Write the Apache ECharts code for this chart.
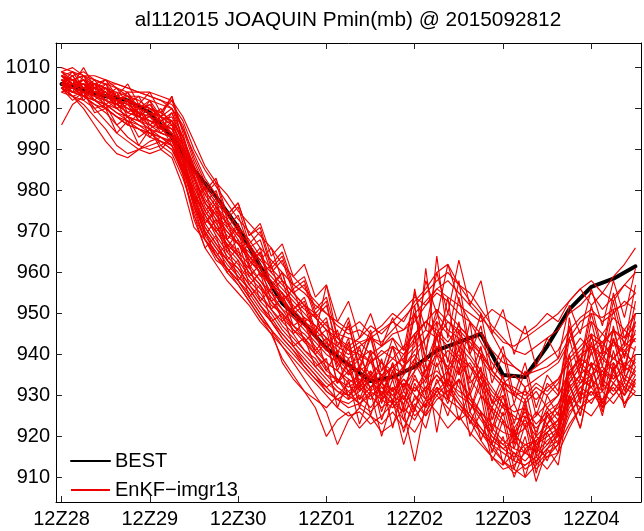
<!DOCTYPE html>
<html>
<head>
<meta charset="utf-8">
<script src="https://cdn.jsdelivr.net/npm/echarts@6/dist/echarts.min.js"></script>
<style>
html,body{margin:0;padding:0;background:#fff;}
#chart{width:644px;height:531px;}
</style>
</head>
<body>
<div id="chart"></div>
<script>
// ---- data ----
const titleText = 'al112015 JOAQUIN Pmin(mb) @ 2015092812';
const xTickHours = [0, 24, 48, 72, 96, 120, 144];
const xTickLabels = ['12Z28', '12Z29', '12Z30', '12Z01', '12Z02', '12Z03', '12Z04'];
const yTickValues = [910, 920, 930, 940, 950, 960, 970, 980, 990, 1000, 1010];
const legendNames = ['BEST', 'EnKF\u2212imgr13'];

// ensemble time grid (hours after 12Z28)
const ensHours = [0,3,6,9,12,15,18,21,24,27,30,33,36,39,42,45,48,51,54,57,60,63,66,69,72,75,78,81,84,87,90,93,96,99,102,105,108,111,114,117,120,123,126,129,132,135,138,141,144,147,150,153,156];

// best track (6-hourly)
const bestHours = [0,6,12,18,24,30,36,42,48,54,60,66,72,78,84,90,96,102,108,114,120,126,132,138,144,150,156];
const bestValues = [1006,1004.5,1003,1002,999,993,985,978.5,971,961.5,952.5,947.5,941.5,937.5,933.5,934.5,937,941,943,945,935,934.5,942,951,956.5,958.5,961.5];

// ensemble members (mb)
const ens01 = [1008,1007,1008,1006,1005,1004,1003,1003,1002,1001,1000,996,988,982,978,975,971,968,964,961,958,955,952,950,947,945,944,943,944,942,945,946,948,952,955,953,950,948,945,941,938,937,935,936,937,939,944,948,950,949,951,952,955];
const ens02 = [1005,1004,1003,1001,999,996,993,991,990,991,989,983,975,968,963,961,958,955,951,948,944,941,938,935,931,929,927,928,926,929,927,930,925,928,931,929,927,924,921,918,916,914,913,915,912,916,922,927,929,931,928,932,930];
const ens03 = [1007,1005,1006,1003,1004,1000,1001,997,998,995,996,987,980,973,970,967,964,960,957,952,950,946,944,940,937,933,936,931,934,930,936,932,938,933,941,936,940,933,936,928,930,922,926,921,927,924,934,938,935,940,936,941,937];
const ens04 = [1009,1010,1008,1007,1006,1005,1003,1002,1000,999,1003,994,984,977,973,969,967,963,960,955,953,949,947,944,941,939,937,936,938,935,937,939,942,958,950,946,944,940,936,932,928,926,927,923,926,928,935,940,942,939,943,940,944];
const ens05 = [1004,1003,1001,998,995,991,989,990,992,993,991,985,978,971,967,963,961,957,954,951,948,945,941,939,935,934,931,933,930,932,929,933,931,934,936,933,931,929,926,923,921,920,918,919,921,924,929,933,935,937,934,936,938];
const ens06 = [996,1001,1003,1004,1002,1001,999,998,997,996,994,990,983,977,974,970,967,964,960,957,955,951,948,946,943,940,938,939,941,938,936,940,944,948,946,943,947,944,941,936,933,931,929,932,930,933,940,944,941,945,942,946,943];
const ens07 = [1008,1009,1007,1006,1007,1005,1004,1004,1003,1002,1001,997,990,985,981,977,973,970,966,963,960,957,955,952,950,948,946,948,945,947,950,948,953,956,960,962,957,955,951,947,944,941,940,942,944,946,950,952,955,951,954,957,960];
const ens08 = [1006,1004,1005,1002,1000,998,996,995,993,992,990,984,974,966,962,958,955,952,948,945,942,939,936,933,930,927,925,926,923,925,928,924,921,926,930,933,929,925,922,918,914,912,910,913,916,918,925,930,932,928,933,930,935];
const ens09 = [1005,1006,1004,1005,1003,1002,1000,999,998,996,995,990,982,975,971,968,965,962,958,955,951,947,945,942,938,936,934,932,935,933,931,935,950,938,945,942,939,937,934,930,927,925,923,925,928,930,936,939,937,941,939,943,941];
const ens10 = [1007,1005,1004,1003,1002,1000,998,997,996,994,993,988,979,972,968,964,961,957,953,950,946,943,940,937,934,931,930,928,930,927,929,926,914,928,932,930,934,930,926,922,919,917,916,918,920,922,928,932,934,931,935,932,936];
const ens11 = [1009,1008,1009,1007,1006,1006,1005,1004,1004,1003,1002,998,992,986,982,979,975,972,969,966,962,959,956,953,950,947,945,946,944,946,948,951,954,952,956,958,955,952,949,946,943,942,944,946,948,950,953,956,958,955,959,962,966];
const ens12 = [1006,1008,1005,1006,1004,1002,1003,1000,999,997,998,992,985,978,974,971,967,965,961,957,954,950,948,945,941,939,936,939,935,938,934,937,940,936,942,939,935,938,933,929,925,928,922,926,923,928,933,937,934,939,936,940,938];
const ens13 = [1005,1003,1002,1000,997,994,992,990,989,990,988,981,971,968,964,961,957,953,949,945,939,935,931,927,920,924,926,922,925,921,923,927,924,929,926,922,925,921,918,915,913,916,912,914,917,919,926,929,931,927,930,933,931];
const ens14 = [1007,1006,1006,1005,1004,1003,1002,1001,1000,999,997,992,985,979,975,972,968,964,961,958,955,952,949,947,944,942,940,942,944,943,946,949,952,955,958,960,957,953,950,945,940,937,935,937,939,941,946,949,951,948,950,953,951];
const ens15 = [1006,1005,1007,1004,1003,1001,1000,998,997,995,993,987,979,974,970,966,963,959,956,953,949,946,943,940,936,934,932,934,931,933,935,932,936,939,937,941,938,934,930,926,923,921,924,920,923,926,931,935,938,936,939,937,940];
const ens16 = [1006,1003,1000,996,992,989,988,990,991,992,990,985,977,970,966,962,959,956,952,948,945,942,938,935,932,929,928,930,927,931,928,926,929,932,930,927,924,926,922,919,917,915,918,916,919,921,930,934,932,936,933,937,935];
const ens17 = [1008,1006,1007,1005,1005,1003,1002,1000,1001,998,1003,991,983,976,972,968,964,961,958,954,951,949,946,943,940,938,935,937,934,936,939,937,941,944,948,945,942,939,935,931,928,924,925,922,925,927,933,937,940,943,939,942,945];
const ens18 = [1005,1004,1004,1002,1001,999,997,995,994,993,991,984,974,968,965,961,958,954,950,946,938,934,931,929,927,930,933,929,932,935,931,934,930,927,931,934,930,928,925,921,918,916,914,917,915,918,923,927,925,929,932,928,931];
const ens19 = [1007,1007,1005,1005,1004,1002,1001,999,998,997,995,990,983,977,973,970,967,963,960,957,953,950,947,945,957,944,941,940,938,941,939,942,945,948,951,948,945,942,939,935,932,930,931,929,932,934,939,942,945,943,946,944,947];
const ens20 = [1006,1005,1003,1002,1000,998,996,995,994,992,991,986,977,969,965,961,958,954,950,946,942,938,934,930,926,918,924,927,925,923,926,922,928,925,929,931,928,925,921,917,914,911,913,915,918,920,927,931,928,933,930,934,932];
const ens21 = [1008,1006,1006,1004,1004,1002,1001,1000,999,998,996,991,985,980,976,973,969,966,962,959,956,953,950,947,944,941,939,941,938,940,942,940,943,946,944,948,946,943,940,936,933,932,930,933,931,934,938,941,944,942,946,943,948];
const ens22 = [1005,1006,1005,1003,1002,1001,999,998,996,995,994,988,980,974,969,965,962,958,955,951,947,944,941,938,935,932,930,933,936,932,930,934,931,936,940,937,941,937,932,927,924,920,922,918,921,923,936,933,937,935,938,934,939];
const ens23 = [1010,1009,1008,1008,1007,1006,1005,1004,1003,1002,1000,995,987,981,977,974,970,967,963,960,957,954,951,949,946,944,942,944,947,945,948,946,950,953,956,954,952,950,948,951,949,947,945,947,950,948,953,956,952,955,953,957,955];
const ens24 = [1006,1004,1003,1002,1001,999,998,996,995,993,992,986,976,968,964,960,957,953,949,946,943,940,937,934,931,929,931,928,931,929,932,929,934,931,935,932,928,924,919,915,912,913,916,914,917,921,932,935,932,936,934,938,936];
const ens25 = [1007,1005,1006,1004,1003,1002,1000,999,997,996,995,989,981,975,971,967,964,960,957,953,950,947,944,941,938,936,933,935,932,934,937,935,939,944,949,962,953,948,943,938,934,930,928,931,927,930,935,939,942,940,943,941,944];
const ens26 = [1004,1005,1003,1001,1000,998,997,996,994,993,992,987,978,971,967,963,960,956,952,949,945,942,939,936,933,931,929,931,934,930,928,931,927,932,935,931,934,929,925,920,918,921,917,919,922,924,928,932,930,934,931,935,933];
const ens27 = [1008,1007,1006,1006,1005,1003,1002,1001,1000,998,997,993,986,980,976,972,969,966,963,966,958,955,952,949,946,943,941,943,940,942,944,941,945,948,945,950,947,944,940,936,933,935,932,934,936,938,943,946,948,945,949,946,950];
const ens28 = [1006,1006,1004,1003,1001,1000,998,997,995,994,993,986,977,970,966,963,959,956,952,948,944,941,937,934,932,934,930,932,929,933,930,928,932,929,933,936,932,928,924,920,917,919,916,920,918,922,930,927,931,929,933,930,934];
const ens29 = [1007,1004,1008,1003,1006,1001,1004,998,1002,995,999,991,984,972,976,966,970,961,965,956,960,951,954,946,949,938,944,932,941,929,938,927,945,930,948,933,946,931,940,924,932,918,928,915,926,920,940,928,945,932,947,935,950];
const ens30 = [1005,1002,1004,999,1000,994,997,991,995,990,993,985,976,970,964,967,958,962,953,956,948,951,943,946,936,941,929,937,925,934,922,933,926,938,921,936,924,931,919,927,913,922,910,919,914,921,933,925,938,927,936,930,940];
const ens31 = [1009,1006,1010,1005,1007,1003,1006,1001,1004,999,1002,995,989,983,979,974,977,969,972,964,967,959,962,954,957,948,953,944,950,942,949,941,955,946,960,950,963,952,958,945,951,940,947,937,944,939,952,945,956,947,958,949,961];
const ens32 = [1006,1008,1004,1006,1002,1004,999,1001,996,998,993,988,977,981,970,973,964,967,959,962,953,956,948,950,941,946,935,942,931,939,928,937,952,934,945,929,942,926,935,921,928,917,925,913,923,918,936,929,941,931,944,933,942];
const ens33 = [1004,1006,1002,1005,1000,1002,996,999,993,996,991,986,979,969,973,963,966,957,960,951,954,945,948,940,943,933,938,927,935,924,932,921,930,925,934,928,937,923,930,916,924,912,920,909,917,913,929,922,934,925,937,928,933];
const ens34 = [1008,1005,1007,1004,1005,1002,1003,999,1001,997,999,993,986,980,983,974,977,969,971,962,965,957,959,951,954,944,949,939,946,936,944,938,956,941,951,938,954,940,947,933,940,928,936,925,933,930,946,937,950,940,953,942,957];
const ens35 = [1007,1005,1006,1002,1005,1000,1002,997,999,994,997,990,981,975,978,968,972,963,966,957,960,951,953,945,948,937,943,933,940,930,938,929,936,961,940,954,935,948,930,927,933,920,929,917,926,922,938,930,943,933,946,936,948];
const ens36 = [1005,1003,1004,1000,1001,996,998,993,995,991,993,984,973,966,969,960,963,954,957,948,950,942,944,937,939,927,934,923,931,920,929,918,927,922,932,925,934,920,926,914,920,910,917,912,915,916,930,922,935,926,938,927,934];
const ens37 = [1006,1009,1005,1007,1003,1005,1001,1003,998,1000,996,991,983,977,980,971,974,966,968,960,963,955,957,949,952,942,947,937,944,934,942,936,950,939,964,944,958,941,950,936,942,930,938,927,935,931,947,938,952,941,955,944,950];
const ens38 = [1005,1007,1003,1006,1001,1003,998,1000,995,997,994,987,978,972,975,965,968,959,962,953,955,947,949,941,944,933,939,929,936,926,934,924,933,927,938,929,939,926,933,918,926,914,923,911,921,916,933,925,938,928,941,931,937];
const ens39 = [1008,1006,1007,1003,1004,1001,1002,998,1000,996,997,989,979,974,977,968,971,962,965,956,958,950,952,944,946,936,942,931,939,928,936,926,935,929,940,932,944,930,937,922,930,919,927,916,925,921,949,935,945,934,944,937,946];
const ens40 = [1009,1007,1008,1005,1006,1003,1004,1000,1002,998,1000,993,985,979,982,973,976,967,970,961,964,956,958,950,953,940,948,936,945,933,942,931,939,934,944,936,948,934,942,928,935,923,932,920,930,925,944,934,948,937,951,939,953];

const ensembleMembers = [ens01,ens02,ens03,ens04,ens05,ens06,ens07,ens08,ens09,ens10,ens11,ens12,ens13,ens14,ens15,ens16,ens17,ens18,ens19,ens20,ens21,ens22,ens23,ens24,ens25,ens26,ens27,ens28,ens29,ens30,ens31,ens32,ens33,ens34,ens35,ens36,ens37,ens38,ens39,ens40];

// ---- chart ----
const FONT = '"Liberation Sans", Arial, Helvetica, sans-serif';
const X_MIN = -1.5, X_MAX = 157.5;
const Y_MIN = 904, Y_MAX = 1016;
const RED = '#ee0000';

const chart = echarts.init(document.getElementById('chart'), null, {renderer: 'canvas'});

const series = [];
series.push({
  name: legendNames[0],
  type: 'line',
  data: bestHours.map((h, i) => [h, bestValues[i]]),
  symbol: 'none',
  showSymbol: false,
  lineStyle: {color: '#000', width: 4, join: 'round', cap: 'round'},
  itemStyle: {color: '#000'},
  silent: true,
  z: 1
});
ensembleMembers.forEach(m => {
  series.push({
    name: legendNames[1],
    type: 'line',
    data: ensHours.map((h, i) => [h, m[i]]),
    symbol: 'none',
    showSymbol: false,
    lineStyle: {color: RED, width: 1.15},
    itemStyle: {color: RED},
    silent: true,
    z: 2
  });
});

chart.setOption({
  animation: false,
  backgroundColor: '#fff',
  textStyle: {fontFamily: FONT},
  graphic: [{
    type: 'text',
    x: 348, y: 10,
    silent: true,
    style: {text: titleText, font: '20.8px ' + FONT, fill: '#000', textAlign: 'center', textVerticalAlign: 'top', align: 'center', verticalAlign: 'top'}
  }],
  grid: {left: 56, right: 3, top: 43, bottom: 29, show: false, containLabel: false},
  legend: {
    data: legendNames,
    orient: 'vertical',
    left: 70,
    top: 451,
    padding: 0,
    itemWidth: 39,
    itemHeight: 14,
    itemGap: 9,
    backgroundColor: 'transparent',
    itemStyle: {opacity: 0},
    textStyle: {fontSize: 20, color: '#000', fontFamily: FONT},
    selectedMode: false
  },
  xAxis: [{
    type: 'value', min: X_MIN, max: X_MAX, position: 'bottom',
    axisLine: {show: true, onZero: false, lineStyle: {color: '#000', width: 1}},
    axisTick: {show: true, inside: true, length: 6, customValues: xTickHours, lineStyle: {color: '#222'}},
    axisLabel: {
      show: true, margin: 7, fontSize: 20, color: '#000', fontFamily: FONT,
      customValues: xTickHours,
      formatter: v => { const i = xTickHours.indexOf(v); return i >= 0 ? xTickLabels[i] : ''; }
    },
    splitLine: {show: false}
  }, {
    type: 'value', min: X_MIN, max: X_MAX, position: 'top',
    axisLine: {show: true, onZero: false, lineStyle: {color: '#000', width: 1}},
    axisTick: {show: true, inside: true, length: 6, customValues: xTickHours, lineStyle: {color: '#222'}},
    axisLabel: {show: false},
    splitLine: {show: false}
  }],
  yAxis: [{
    type: 'value', min: Y_MIN, max: Y_MAX, position: 'left',
    axisLine: {show: true, onZero: false, lineStyle: {color: '#000', width: 1}},
    axisTick: {show: true, inside: true, length: 6, customValues: yTickValues, lineStyle: {color: '#222'}},
    axisLabel: {show: true, margin: 6, fontSize: 20, color: '#000', fontFamily: FONT, customValues: yTickValues,
      formatter: v => String(v)},
    splitLine: {show: false}
  }, {
    type: 'value', min: Y_MIN, max: Y_MAX, position: 'right',
    axisLine: {show: true, onZero: false, lineStyle: {color: '#000', width: 1}},
    axisTick: {show: true, inside: true, length: 6, customValues: yTickValues, lineStyle: {color: '#222'}},
    axisLabel: {show: false},
    splitLine: {show: false}
  }],
  series: series
});
</script>
</body>
</html>
